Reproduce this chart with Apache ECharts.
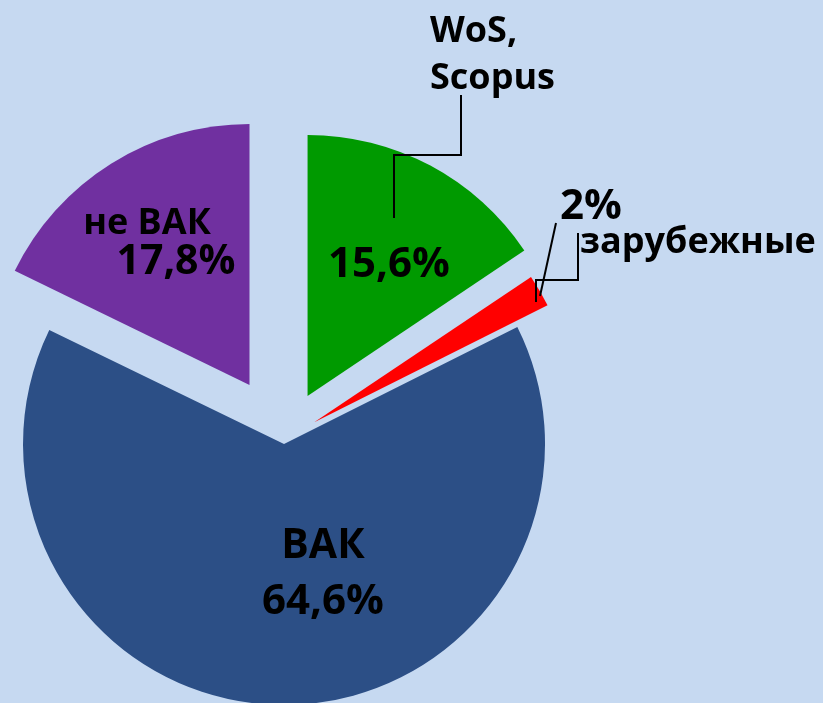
<!DOCTYPE html>
<html>
<head>
<meta charset="utf-8">
<script src="https://cdn.jsdelivr.net/npm/echarts@6/dist/echarts.min.js"></script>
<style>
  html, body { margin: 0; padding: 0; background: #c6d9f1; }
  #chart { width: 823px; height: 703px; }
</style>
</head>
<body>
<div id="chart"></div>
<script>
// доли публикаций по типам изданий, %
const categories = ['WoS, Scopus', 'зарубежные', 'ВАК', 'не ВАК']
const shares = [15.6, 2, 64.6, 17.8]

const colors = ['#009a00', '#ff0000', '#2c4f86', '#7030a0']
const explode = [50, 35, 4, 65]
const font = 'Open Sans'
const clear = 'rgba(0,0,0,0)'

const pct = v => String(v).replace('.', ',') + '%'

const chart = echarts.init(document.getElementById('chart'))

const base = {
  type: 'pie',
  center: [284, 440],
  radius: 261,
  startAngle: 90,
  silent: true,
  animation: false,
  avoidLabelOverlap: false,
  emphasis: { disabled: true }
}

// по одной серии на сектор, чтобы у каждого был свой вынос
const sliceSeries = shares.map((_, k) => Object.assign({}, base, {
  selectedMode: 'single',
  selectedOffset: explode[k],
  label: { show: false },
  labelLine: { show: false },
  data: shares.map((v, i) => ({
    name: categories[i],
    value: v,
    selected: i === k,
    itemStyle: { color: i === k ? colors[i] : clear, borderWidth: 0 }
  }))
}))

const txt = { fontFamily: font, fontWeight: 'bold', color: '#000' }
const rich = {
  v: Object.assign({ fontSize: 42, lineHeight: 56 }, txt),
  n: Object.assign({ fontSize: 41, lineHeight: 56 }, txt),
  p: Object.assign({ fontSize: 36, lineHeight: 38, padding: [0, 58, 0, 0] }, txt),
  w: Object.assign({ fontSize: 41, lineHeight: 38 }, txt)
}
const line = { show: true, lineStyle: { color: '#000', width: 2 } }

// проценты (и названия внутри синего и фиолетового секторов)
const valueFormats = [
  i => '{v|' + pct(shares[i]) + '}',
  i => '{v|' + pct(shares[i]) + '}',
  i => '{n|' + categories[i] + '}\n{v|' + pct(shares[i]) + '}',
  i => '{p|' + categories[i] + '}\n{w|' + pct(shares[i]) + '}'
]
const valueSeries = Object.assign({}, base, {
  z: 5,
  data: shares.map((v, i) => ({
    name: categories[i],
    value: v,
    itemStyle: { color: clear, borderWidth: 0 },
    label: { show: true, position: i === 1 ? 'outside' : 'inside', formatter: valueFormats[i](i), rich: rich },
    labelLine: i === 1 ? line : { show: false }
  })),
  labelLayout: p => {
    switch (p.dataIndex) {
      case 0: return { x: 389, y: 265, align: 'center', verticalAlign: 'middle' }
      case 1: return {
        x: 560, y: 207, align: 'left', verticalAlign: 'middle',
        labelLinePoints: [[540, 296], [556, 223]]
      }
      case 2: return { x: 323, y: 574, align: 'center', verticalAlign: 'middle' }
      case 3: return { x: 176, y: 243, align: 'center', verticalAlign: 'middle' }
    }
    return {}
  }
})

// названия снаружи с выносками
const nameSeries = Object.assign({}, base, {
  z: 5,
  data: shares.map((v, i) => ({
    name: categories[i],
    value: v,
    itemStyle: { color: clear, borderWidth: 0 },
    label: { show: i < 2 },
    labelLine: i < 2 ? line : { show: false }
  })),
  label: Object.assign({
    position: 'outside',
    fontSize: 36,
    lineHeight: 47,
    formatter: p => p.name.replace(', ', ',\n')
  }, txt),
  labelLayout: p => {
    if (p.dataIndex === 0) {
      return {
        x: 430, y: 8, align: 'left', verticalAlign: 'top',
        labelLinePoints: [[394, 218], [394, 155], [461, 155], [461, 95]]
      }
    }
    if (p.dataIndex === 1) {
      return {
        x: 580, y: 243, align: 'left', verticalAlign: 'middle',
        labelLinePoints: [[536, 302], [536, 280], [578, 280], [578, 233]]
      }
    }
    return {}
  }
})

chart.setOption({
  backgroundColor: '#c6d9f1',
  series: sliceSeries.concat([valueSeries, nameSeries])
})
</script>
</body>
</html>
